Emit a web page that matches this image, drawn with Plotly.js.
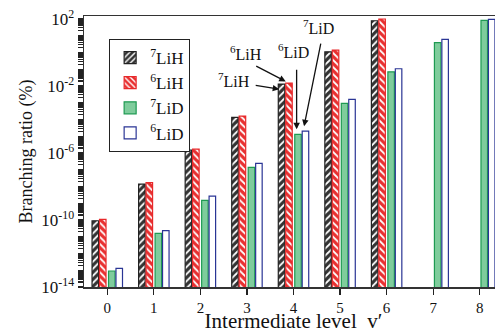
<!DOCTYPE html>
<html>
<head>
<meta charset="utf-8">
<script src="https://cdn.plot.ly/plotly-3.0.1.min.js"></script>
<style>
html,body{margin:0;padding:0;overflow:hidden;background:#fff;width:495px;height:333px;}
#chart{width:520px;height:333px;}
</style>
</head>
<body>
<div id="chart"></div>
<script>
// Intermediate vibrational levels v'
var levels = [0, 1, 2, 3, 4, 5, 6, 7, 8];
var levelsH = [0, 1, 2, 3, 4, 5, 6];
// Branching ratios (%)
var li7H = [9e-11, 1.4e-8, 1.5e-6, 1.35e-4, 0.013, 1.1, 79];
var li6H = [1.1e-10, 1.7e-8, 1.7e-6, 1.6e-4, 0.015, 1.4, 100];
var li7D = [9e-14, 1.6e-11, 1.5e-9, 1.4e-7, 1.3e-5, 9.3e-4, 0.07, 3.9, 83];
var li6D = [1.3e-13, 2.3e-11, 2.7e-9, 2.4e-7, 2e-5, 1.6e-3, 0.107, 6.1, 96];
var seriesNames = ['<sup>7</sup>LiH', '<sup>6</sup>LiH', '<sup>7</sup>LiD', '<sup>6</sup>LiD'];
var tickLabelExps = [2, -2, -6, -10, -14];

var FONT = 'Liberation Serif, Times New Roman, serif';
var W = 0.14;

var traces = [
  {x: levelsH, y: li7H, name: seriesNames[0], offset: -0.327,
   marker: {color: '#333', line: {color: '#222', width: 1.2},
            pattern: {shape: '/', fgcolor: '#ffffff', bgcolor: '#333333', size: 5, solidity: 0.35}}},
  {x: levelsH, y: li6H, name: seriesNames[1], offset: -0.167,
   marker: {color: '#e83030', line: {color: '#e8282a', width: 1.2},
            pattern: {shape: '\\', fgcolor: '#ffffff', bgcolor: '#e83030', size: 5, solidity: 0.35}}},
  {x: levels, y: li7D, name: seriesNames[2], offset: 0.027,
   marker: {color: '#7fcc9c', line: {color: '#1e9a52', width: 1.2}}},
  {x: levels, y: li6D, name: seriesNames[3], offset: 0.187,
   marker: {color: '#ffffff', line: {color: '#2a3595', width: 1.2}}}
].map(function(t){ t.type = 'bar'; t.width = W; return t; });

// all decade and sub-decade tick positions; labels only on every 4th decade
var tickVals = [], tickText = [];
for (var e = -14; e <= 2; e++) {
  for (var k = 1; k <= 9; k++) {
    var v = k * Math.pow(10, e);
    if (v > 150) break;
    tickVals.push(v);
    tickText.push(k === 1 && tickLabelExps.indexOf(e) >= 0 ? '10<sup>' + e + '</sup>' : '');
  }
}

// annotation helpers (tip at bar tops, in data coords)
var xs = [4 - 0.257, 4 - 0.097, 4 + 0.097, 4 + 0.257];
var tops = [li7H[4], li6H[4], li7D[4], li6D[4]];
function lg(v){ return Math.log10(v); }

var arrowBase = {showarrow: true, arrowhead: 2, arrowsize: 1, arrowwidth: 1.3, arrowcolor: '#111', text: '', xref: 'x', yref: 'y'};
var annotations = [
  Object.assign({}, arrowBase, {x: xs[0] - 0.05, y: lg(tops[0]) - 0.3, ax: -25, ay: -4}),
  Object.assign({}, arrowBase, {x: xs[1] - 0.07, y: lg(tops[1]) + 0.1, ax: -31, ay: -16}),
  Object.assign({}, arrowBase, {x: xs[2] - 0.03, y: lg(tops[2]) + 0.3, ax: 0, ay: -61}),
  Object.assign({}, arrowBase, {x: xs[3] - 0.03, y: lg(tops[3]) + 0.3, ax: 17, ay: -84}),
  {x: xs[0], y: lg(tops[0]), xref: 'x', yref: 'y', showarrow: false, text: '<sup>7</sup>LiH', xshift: -48, yshift: 4},
  {x: xs[1], y: lg(tops[1]), xref: 'x', yref: 'y', showarrow: false, text: '<sup>6</sup>LiH', xshift: -43, yshift: 30},
  {x: xs[2], y: lg(tops[2]), xref: 'x', yref: 'y', showarrow: false, text: '<sup>6</sup>LiD', xshift: -5, yshift: 83},
  {x: xs[3], y: lg(tops[3]), xref: 'x', yref: 'y', showarrow: false, text: '<sup>7</sup>LiD', xshift: 13, yshift: 104}
];
annotations.forEach(function(a){ a.font = {family: FONT, size: 16, color: '#111'}; });

var layout = {
  width: 520, height: 333,
  margin: {l: 84, r: 17, t: 16, b: 46},
  paper_bgcolor: '#fff', plot_bgcolor: '#fff',
  font: {family: FONT, size: 16, color: '#111'},
  barmode: 'overlay',
  showlegend: true,
  legend: {x: 0.06, y: 0.915, xanchor: 'left', yanchor: 'top', bordercolor: '#222', borderwidth: 1,
           bgcolor: '#fff', font: {family: FONT, size: 17}, tracegroupgap: 0, itemwidth: 30},
  xaxis: {range: [-0.5, 8.5], tickvals: levels, ticktext: levels.map(String),
          ticks: 'outside', ticklen: 6, tickwidth: 1.3, tickcolor: '#222',
          showline: true, linecolor: '#333', linewidth: 1.5, mirror: true, showgrid: false, zeroline: false,
          tickfont: {family: FONT, size: 15},
          title: {text: 'Intermediate level\u00a0\u00a0v\u2032', font: {family: FONT, size: 21}, standoff: 0}},
  yaxis: {type: 'log', range: [-14, 2.18], tickmode: 'array', tickvals: tickVals, ticktext: tickText,
          ticks: 'outside', ticklen: 5, tickwidth: 1.2, tickcolor: '#222',
          showline: true, linecolor: '#333', linewidth: 1.5, mirror: true, showgrid: false, zeroline: false,
          tickfont: {family: FONT, size: 17},
          title: {text: 'Branching ratio (%)', font: {family: FONT, size: 18}, standoff: 4}},
  annotations: annotations
};

Plotly.newPlot('chart', traces, layout, {displayModeBar: false, staticPlot: true});
</script>
</body>
</html>
